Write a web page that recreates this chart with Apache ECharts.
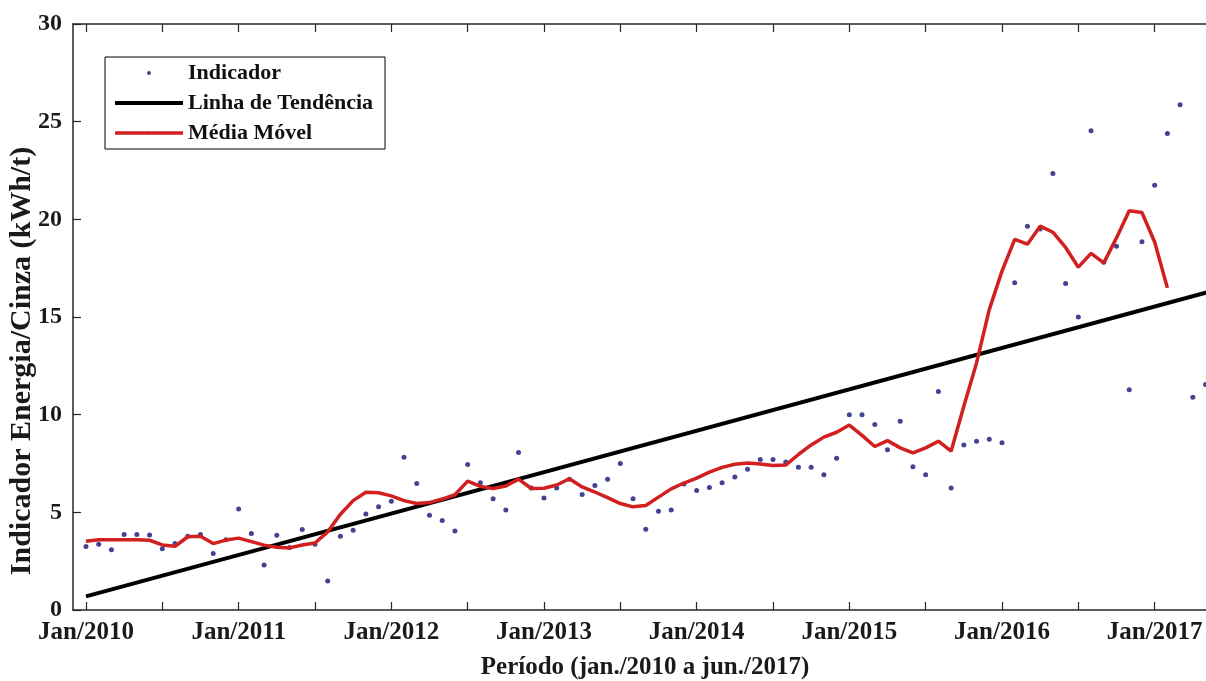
<!DOCTYPE html>
<html><head><meta charset="utf-8">
<script src="https://cdn.jsdelivr.net/npm/echarts@6/dist/echarts.min.js"></script>
<style>html,body{margin:0;padding:0;background:#fff;}#c{width:1206px;height:681px;}</style>
</head><body><div id="c"></div>
<script>
// Month index: 0 = Jan/2010
const indicador = [
  3.25, 3.36, 3.08, 3.86, 3.86, 3.84, 3.14, 3.40, 3.77, 3.86, 2.89, 3.60,
  5.17, 3.91, 2.31, 3.83, 3.20, 4.12, 3.37, 1.49, 3.77, 4.08, 4.92, 5.29,
  5.57, 7.82, 6.47, 4.85, 4.58, 4.05, 7.45, 6.51, 5.70, 5.12, 8.06, 6.25,
  5.74, 6.25, 6.70, 5.91, 6.37, 6.69, 7.50, 5.70, 4.13, 5.05, 5.12, 6.45,
  6.12, 6.27, 6.52, 6.81, 7.21, 7.70, 7.70, 7.58, 7.31, 7.31, 6.93, 7.77,
  9.99, 9.99, 9.50, 8.21, 9.66, 7.34, 6.92, 11.18, 6.25, 8.45, 8.64, 8.74,
  8.56, 16.75, 19.65, 19.50, 22.35, 16.71, 15.00, 24.53, 17.80, 18.62, 11.28, 18.85,
  21.75, 24.39, 25.86, 10.89, 11.54, 14.90
];
const mediaMovel = [
  3.52, 3.60, 3.60, 3.60, 3.60, 3.57, 3.33, 3.26, 3.75, 3.78, 3.40, 3.58,
  3.68, 3.50, 3.32, 3.21, 3.18, 3.33, 3.43, 4.00, 4.90, 5.60, 6.03, 6.00,
  5.84, 5.60, 5.45, 5.50, 5.68, 5.90, 6.60, 6.33, 6.22, 6.35, 6.70, 6.22,
  6.23, 6.40, 6.72, 6.30, 6.04, 5.75, 5.45, 5.28, 5.35, 5.78, 6.20, 6.50,
  6.75, 7.06, 7.30, 7.46, 7.52, 7.48, 7.40, 7.42, 7.96, 8.45, 8.85, 9.10,
  9.47, 8.94, 8.37, 8.67, 8.30, 8.04, 8.30, 8.64, 8.13, 10.43, 12.65, 15.38,
  17.35, 18.97, 18.73, 19.65, 19.34, 18.56, 17.55, 18.26, 17.77, 19.05, 20.44, 20.35,
  18.84, 16.49
];
const tendenciaMeses = [0, 89];
const tendenciaValores = [0.70, 16.42];
const xTickMeses = [0, 6, 12, 18, 24, 30, 36, 42, 48, 54, 60, 66, 72, 78, 84, 90];
const xLabelMeses = [0, 12, 24, 36, 48, 60, 72, 84];
const xLabels = ['Jan/2010', 'Jan/2011', 'Jan/2012', 'Jan/2013', 'Jan/2014', 'Jan/2015', 'Jan/2016', 'Jan/2017'];
const yTicks = [0, 5, 10, 15, 20, 25, 30];

const FONT = '"Liberation Serif", "Times New Roman", serif';
const AX = '#262626';

const chart = echarts.init(document.getElementById('c'), null, {renderer: 'canvas'});
const labelMap = {};
xLabelMeses.forEach((m, i) => { labelMap[m] = xLabels[i]; });

const commonX = {
  type: 'value', min: -1.02, max: 90,
  axisLine: {show: true, onZero: false, lineStyle: {color: AX, width: 1.5}},
  axisTick: {show: true, inside: true, length: 8, lineStyle: {color: AX, width: 1.2}, customValues: xTickMeses},
  splitLine: {show: false}
};

chart.setOption({
  animation: false,
  backgroundColor: '#fff',
  grid: {left: 73, top: 24, width: 1158, height: 586, containLabel: false, outerBoundsMode: 'none'},
  legend: {
    orient: 'vertical', left: 105, top: 57,
    backgroundColor: '#fff', borderColor: '#000', borderWidth: 1,
    padding: [5, 12, 5, 8], itemGap: 8, itemWidth: 68, itemHeight: 4,
    textStyle: {fontFamily: FONT, fontWeight: 'bold', fontSize: 22, color: '#111'},
    lineStyle: {width: 'inherit'},
    data: [
      {name: 'Indicador', icon: 'circle'},
      {name: 'Linha de Tendência'},
      {name: 'Média Móvel'}
    ]
  },
  xAxis: [
    Object.assign({}, commonX, {
      position: 'bottom',
      name: 'Período (jan./2010 a jun./2017)', nameLocation: 'middle', nameGap: 45, nameMoveOverlap: false,
      nameTextStyle: {fontFamily: FONT, fontWeight: 'bold', fontSize: 25, color: '#1a1a1a', padding: [0, 14, 0, 0]},
      axisLabel: {
        show: true, margin: 10, customValues: xLabelMeses,
        fontFamily: FONT, fontWeight: 'bold', fontSize: 25, color: '#1a1a1a',
        formatter: v => labelMap[Math.round(v)] || ''
      }
    }),
    Object.assign({}, commonX, {position: 'top', axisLabel: {show: false}})
  ],
  yAxis: [{
    type: 'value', min: 0, max: 30, interval: 5,
    axisLine: {show: true, onZero: false, lineStyle: {color: AX, width: 1.5}},
    axisTick: {show: true, inside: true, length: 8, lineStyle: {color: AX, width: 1.2}},
    splitLine: {show: false},
    axisLabel: {
      margin: 11, fontFamily: FONT, fontWeight: 'bold', fontSize: 24, color: '#1a1a1a',
      formatter: v => (yTicks.indexOf(v) >= 0 ? String(v) : '')
    },
    name: 'Indicador Energia/Cinza (kWh/t)', nameLocation: 'middle', nameGap: 36, nameMoveOverlap: false,
    nameTextStyle: {fontFamily: FONT, fontWeight: 'bold', fontSize: 30, color: '#1a1a1a', padding: [0, 88, 0, 0]}
  }],
  series: [
    {
      name: 'Indicador', type: 'scatter', symbol: 'circle', symbolSize: 5,
      itemStyle: {color: '#141478'},
      data: indicador.map((v, i) => [i, v]), z: 2
    },
    {
      name: 'Linha de Tendência', type: 'line', symbol: 'none', showSymbol: false,
      lineStyle: {color: '#000', width: 4}, itemStyle: {color: '#000'},
      data: tendenciaMeses.map((m, i) => [m, tendenciaValores[i]]), z: 3
    },
    {
      name: 'Média Móvel', type: 'line', symbol: 'none', showSymbol: false,
      lineStyle: {color: '#d21f1f', width: 3.5}, itemStyle: {color: '#d21f1f'},
      data: mediaMovel.map((v, i) => [i, v]), z: 4
    }
  ]
});
</script>
</body></html>
